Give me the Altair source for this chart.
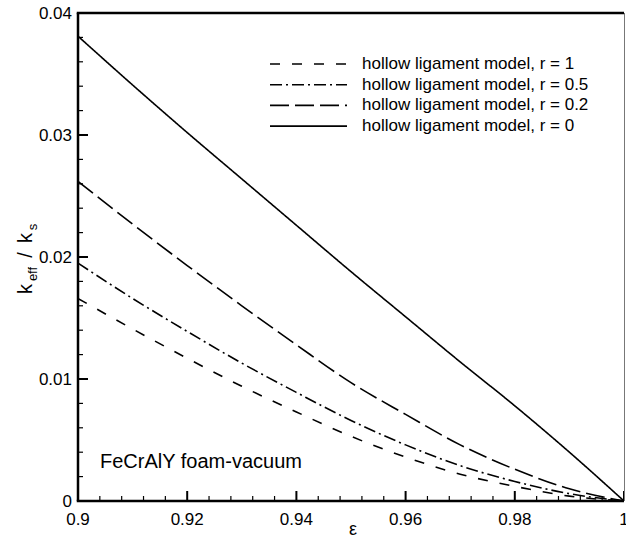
import altair as alt
import pandas as pd

FONT = "Liberation Sans"

# Porosity (x) and normalised effective conductivity k_eff/k_s for each hollow ratio r
eps = [0.90, 0.91, 0.92, 0.93, 0.94, 0.95, 0.96, 0.97, 0.98, 0.99, 1.00]
k_r1 = [0.0166, 0.0141, 0.0117, 0.0094, 0.0073, 0.0053, 0.0036, 0.0022, 0.0012, 0.0004, 0.0]
k_r05 = [0.0195, 0.0166, 0.0139, 0.0113, 0.0089, 0.0066, 0.0046, 0.0029, 0.0016, 0.0006, 0.0]
k_r02 = [0.0262, 0.0227, 0.0193, 0.0160, 0.0128, 0.0097, 0.0071, 0.0046, 0.0026, 0.0010, 0.0]
k_r0 = [0.0381, 0.0341, 0.0302, 0.0264, 0.0226, 0.0188, 0.0151, 0.0114, 0.0078, 0.0040, 0.0]

series_names = [
    "hollow ligament model, r = 1",
    "hollow ligament model, r = 0.5",
    "hollow ligament model, r = 0.2",
    "hollow ligament model, r = 0",
]
dash_styles = [[10, 12], [12, 4, 2, 4], [19, 6], [1, 0]]

# Axis ticks and their labels
x_major = [0.90, 0.92, 0.94, 0.96, 0.98, 1.00]
x_labels = ["0.9", "0.92", "0.94", "0.96", "0.98", "1"]
x_minor = [0.904, 0.908, 0.912, 0.916, 0.924, 0.928, 0.932, 0.936, 0.944, 0.948,
           0.952, 0.956, 0.964, 0.968, 0.972, 0.976, 0.984, 0.988, 0.992, 0.996]
y_major = [0.0, 0.01, 0.02, 0.03, 0.04]
y_labels = ["0", "0.01", "0.02", "0.03", "0.04"]
y_minor = [0.002, 0.004, 0.006, 0.008, 0.012, 0.014, 0.016, 0.018, 0.022, 0.024,
           0.026, 0.028, 0.032, 0.034, 0.036, 0.038]

annotation = "FeCrAlY foam-vacuum"

rows = []
for name, vals in zip(series_names, [k_r1, k_r05, k_r02, k_r0]):
    for e, v in zip(eps, vals):
        rows.append({"eps": e, "k": v, "series": name})
df = pd.DataFrame(rows)

W, H = 546, 488
xscale = alt.Scale(domain=[0.9, 1.0], nice=False, zero=False)
yscale = alt.Scale(domain=[0.0, 0.04], nice=False, zero=False)

curves = alt.Chart(df).mark_line(
    color="black", strokeWidth=1.6, interpolate="monotone", clip=True
).encode(
    x=alt.X("eps:Q", scale=xscale, axis=None),
    y=alt.Y("k:Q", scale=yscale, axis=None),
    strokeDash=alt.StrokeDash("series:N", scale=alt.Scale(domain=series_names, range=dash_styles),
                              legend=None),
)

# Inward tick marks along the bottom and left edges
def x_ticks(values, length, width):
    return alt.Chart(pd.DataFrame({"v": values})).mark_rule(color="black", strokeWidth=width).encode(
        x=alt.X("v:Q", scale=xscale, axis=None), y=alt.value(H), y2=alt.value(H - length))

def y_ticks(values, length, width):
    return alt.Chart(pd.DataFrame({"v": values})).mark_rule(color="black", strokeWidth=width).encode(
        y=alt.Y("v:Q", scale=yscale, axis=None), x=alt.value(0), x2=alt.value(length))

ticks = [x_ticks(x_major, 10, 2), x_ticks(x_minor, 5, 1.2),
         y_ticks(y_major, 10, 2), y_ticks(y_minor, 5, 1.2)]

# Tick labels
x_tick_labels = alt.Chart(pd.DataFrame({"v": x_major, "lab": x_labels})).mark_text(
    align="center", baseline="alphabetic", font=FONT, fontSize=17, color="black").encode(
    x=alt.X("v:Q", scale=xscale, axis=None), y=alt.value(H + 24), text="lab:N")
y_tick_labels = alt.Chart(pd.DataFrame({"v": y_major, "lab": y_labels})).mark_text(
    align="right", baseline="alphabetic", dy=6, font=FONT, fontSize=17, color="black").encode(
    y=alt.Y("v:Q", scale=yscale, axis=None), x=alt.value(-6), text="lab:N")

one = pd.DataFrame({"a": [0]})

# Frame around the plot area
bottom_edge = alt.Chart(one).mark_rule(color="black", strokeWidth=2.5).encode(
    x=alt.value(-1.25), x2=alt.value(W), y=alt.value(H))
left_edge = alt.Chart(one).mark_rule(color="black", strokeWidth=2.5).encode(
    x=alt.value(0), y=alt.value(0), y2=alt.value(H))
top_edge = alt.Chart(one).mark_rule(color="black", strokeWidth=2.5).encode(
    x=alt.value(-1.25), x2=alt.value(W), y=alt.value(0))
right_edge = alt.Chart(one).mark_rule(color="#777777", strokeWidth=1).encode(
    x=alt.value(W + 0.5), y=alt.value(0), y2=alt.value(H))

# Legend drawn inside the plot
legend_layers = []
for i, (name, dash) in enumerate(zip(series_names, dash_styles)):
    ypos = 51 + i * 20.7
    ldf = pd.DataFrame({"series": [name]})
    legend_layers.append(alt.Chart(ldf).mark_rule(color="black", strokeWidth=1.6, strokeDash=dash).encode(
        x=alt.value(192), x2=alt.value(269), y=alt.value(ypos)))
    legend_layers.append(alt.Chart(ldf).mark_text(
        align="left", baseline="middle", font=FONT, fontSize=17, color="black").encode(
        x=alt.value(284), y=alt.value(ypos), text="series:N"))

note = alt.Chart(pd.DataFrame({"t": [annotation]})).mark_text(
    align="left", baseline="alphabetic", font=FONT, fontSize=20, color="black").encode(
    x=alt.value(22), y=alt.value(455), text="t:N")

# Axis titles: epsilon below, k_eff / k_s rotated with subscripts
x_title = alt.Chart(pd.DataFrame({"t": ["ε"]})).mark_text(
    align="center", baseline="alphabetic", font=FONT, fontSize=18, color="black").encode(
    x=alt.value(275), y=alt.value(522), text="t:N")

y_title_parts = [("k", 20, -46, 276), ("eff", 13, -41, 261), ("/", 20, -46, 242),
                 ("k", 20, -46, 225), ("s", 13, -41, 214)]
y_title = []
for txt, fs, xp, yp in y_title_parts:
    y_title.append(alt.Chart(pd.DataFrame({"t": [txt]})).mark_text(
        align="center", baseline="alphabetic", angle=270, font=FONT, fontSize=fs, color="black").encode(
        x=alt.value(xp), y=alt.value(yp), text="t:N"))

chart = alt.layer(
    curves, *ticks, x_tick_labels, y_tick_labels,
    bottom_edge, left_edge, top_edge, right_edge,
    *legend_layers, note, x_title, *y_title
).properties(
    width=W, height=H,
    autosize=alt.AutoSizeParams(type="none"),
    padding={"left": 78, "top": 13, "right": 2, "bottom": 38},
    background="white",
).configure_view(stroke=None)

chart.save("out.html", embed_options={"renderer": "svg", "actions": False})
